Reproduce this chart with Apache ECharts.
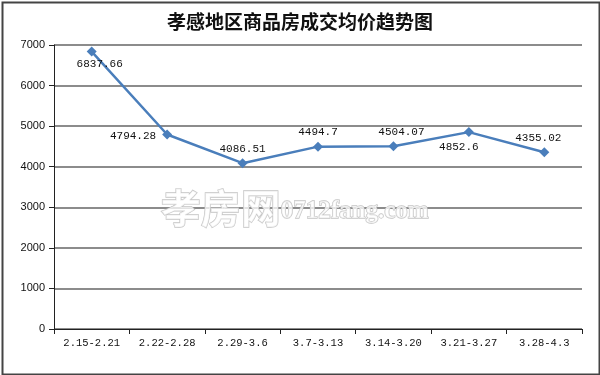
<!DOCTYPE html>
<html><head><meta charset="utf-8">
<script src="https://cdn.jsdelivr.net/npm/echarts@6/dist/echarts.min.js"></script>
<style>html,body{margin:0;padding:0;background:#fff}#c{width:600px;height:375px}</style>
</head><body><div id="c"></div>
<script>
var categories = ['2.15-2.21','2.22-2.28','2.29-3.6','3.7-3.13','3.14-3.20','3.21-3.27','3.28-4.3'];
var values = [6837.66, 4794.28, 4086.51, 4494.7, 4504.07, 4852.6, 4355.02];
var labelPos = ['bottom','left','top','top','top','bottom','top'];
var labelOff = [[8,-2],[-2,2],[0,0],[0,0],[8,0],[-10,0],[-6,0]];
var title = '孝感地区商品房成交均价趋势图';
var watermarkCn = '孝房网';
var watermarkEn = '0712fang.com';

var chart = echarts.init(document.getElementById('c'));
var data = values.map(function(v,i){
  return {value:v, label:{position:labelPos[i], offset:labelOff[i]}};
});
chart.setOption({
  animation:false,
  title:{text:title,left:'center',top:7,textStyle:{fontFamily:'Noto Sans CJK SC',fontSize:19,fontWeight:'bold',color:'#111'}},
  grid:{left:54,right:18,top:45,bottom:46},
  xAxis:{type:'category',data:categories,boundaryGap:true,
    axisLine:{lineStyle:{color:'#222',width:1}},
    axisTick:{show:true,length:5,lineStyle:{color:'#222'}},
    axisLabel:{interval:0,color:'#111',fontFamily:'Liberation Mono',fontSize:10.5,margin:9}},
  yAxis:{type:'value',min:0,max:7000,interval:1000,
    axisLine:{show:true,lineStyle:{color:'#222'}},
    axisTick:{show:true,length:5,lineStyle:{color:'#222'}},
    axisLabel:{color:'#111',fontFamily:'Liberation Sans',fontSize:11,margin:9,formatter:function(v){return String(v);}},
    splitLine:{lineStyle:{color:'#666',width:1.5}}},
  graphic:[
    {type:'rect',left:0,top:0,z:0,silent:true,shape:{x:1,y:1,width:597,height:372},style:{fill:'none',stroke:'#444',lineWidth:2}},
    {type:'text',left:160,top:187,z:1,silent:true,style:{
      text:'{a|'+watermarkCn+'}{b|'+watermarkEn+'}',
      rich:{a:{fontFamily:'Noto Sans CJK SC',fontSize:40,fontWeight:'bold',fill:'rgba(255,255,255,0.75)',stroke:'#c4c4c4',lineWidth:1.3},
            b:{fontFamily:'Liberation Serif',fontSize:25,fontWeight:'bold',fill:'rgba(255,255,255,0.75)',stroke:'#c4c4c4',lineWidth:1.3,padding:[8,0,0,0]}}}}
  ],
  series:[{type:'line',data:data,z:5,
    symbol:'diamond',symbolSize:10,
    lineStyle:{color:'#4a7ebb',width:2.5},
    itemStyle:{color:'#4a7ebb'},
    label:{show:true,color:'#111',fontFamily:'Liberation Mono',fontSize:11,distance:4}}]
});
</script></body></html>
